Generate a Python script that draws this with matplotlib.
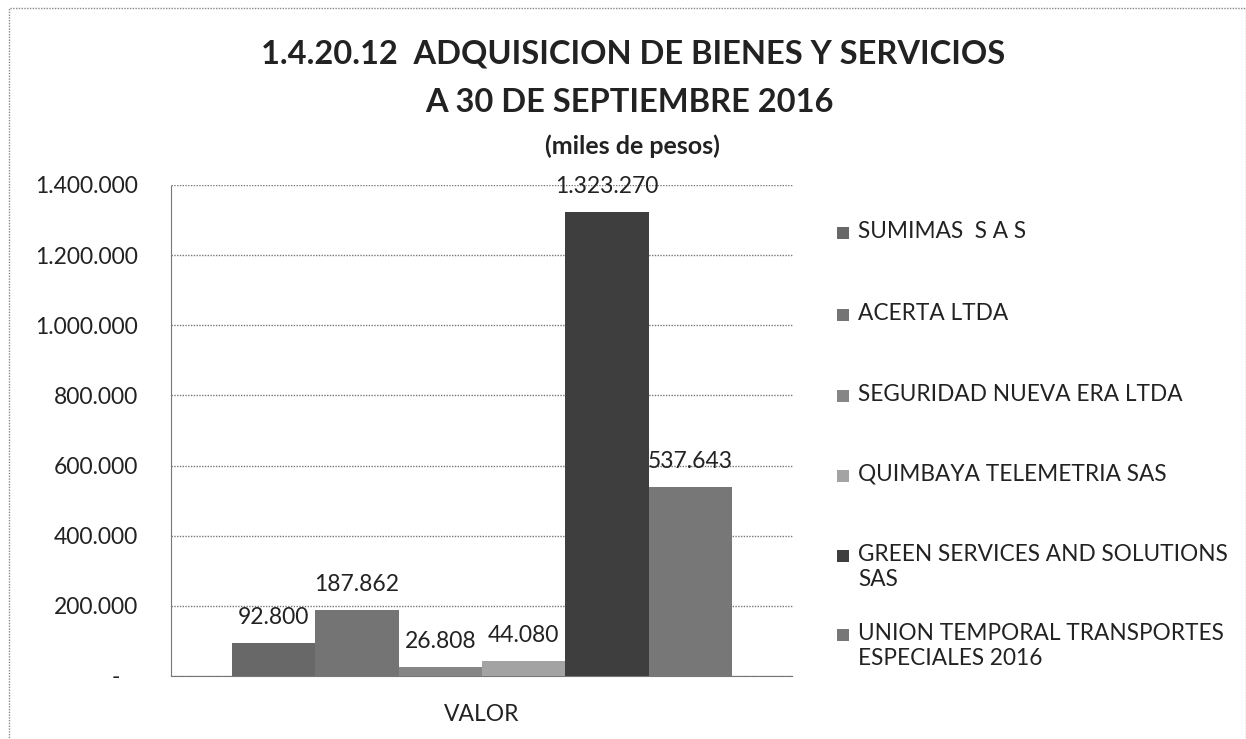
import matplotlib
matplotlib.use("Agg")
import matplotlib.pyplot as plt
from matplotlib.patches import Rectangle

plt.rcParams['font.family'] = ['Lato', 'DejaVu Sans']

categories = ["SUMIMAS  S A S", "ACERTA LTDA", "SEGURIDAD NUEVA ERA LTDA",
              "QUIMBAYA TELEMETRIA SAS", "GREEN SERVICES AND SOLUTIONS\nSAS",
              "UNION TEMPORAL TRANSPORTES\nESPECIALES 2016"]
values = [92800, 187862, 26808, 44080, 1323270, 537643]
value_labels = ["92.800", "187.862", "26.808", "44.080", "1.323.270", "537.643"]
colors = ["#686868", "#747474", "#868686", "#a3a3a3", "#3e3e3e", "#777777"]
yticks = [0, 200000, 400000, 600000, 800000, 1000000, 1200000, 1400000]
ytick_labels = ["-   ", "200.000", "400.000", "600.000", "800.000", "1.000.000", "1.200.000", "1.400.000"]
xlabel = "VALOR"

W, H = 1246, 739
fig = plt.figure(figsize=(W/100, H/100), dpi=100)
fig.patch.set_facecolor("white")

# outer frame
fig.patches.append(Rectangle((9/W, -0.01), (W-9)/W, (H-8)/H + 0.01, transform=fig.transFigure,
                             fill=False, edgecolor="#888888", linewidth=1.0, linestyle=(0, (1, 1))))

ax = fig.add_axes([171/W, 1-676/H, (793-171)/W, (676-185)/H])
n = len(values)
group = 0.804
bw = group / n
xs = [-group/2 + bw/2 + i*bw for i in range(n)]
bars = ax.bar(xs, values, width=bw, color=colors, edgecolor="none", zorder=3)
for x, v, lab in zip(xs, values, value_labels):
    ax.annotate(lab, (x, v), xytext=(0, 13.7), textcoords="offset points",
                ha="center", va="baseline", fontsize=16.5, color="#222222", zorder=4)

ax.set_xlim(-0.5, 0.5)
ax.set_ylim(0, 1400000)
ax.set_yticks(yticks)
ax.set_yticklabels(ytick_labels, fontsize=16.5, color="#222222")
ax.tick_params(axis="y", length=0, pad=24)
ax.set_xticks([0])
ax.set_xticklabels([xlabel], fontsize=16.5, color="#222222")
ax.tick_params(axis="x", length=0, pad=20)
ax.grid(axis="y", color="#777777", linestyle=(0, (1, 1)), linewidth=1.0, zorder=0)
for s in ["top", "right"]:
    ax.spines[s].set_visible(False)
ax.spines["left"].set_color("#777777")
ax.spines["left"].set_linestyle((0, (1, 1)))
ax.spines["bottom"].set_color("#777777")
ax.spines["bottom"].set_linestyle((0, (1, 1)))

# titles
fig.text(633/W, 1-54/H, "1.4.20.12  ADQUISICION DE BIENES Y SERVICIOS", ha="center", va="center",
         fontsize=23.5, fontweight="bold", color="#222222")
fig.text(629/W, 1-103/H, "A 30 DE SEPTIEMBRE 2016", ha="center", va="center",
         fontsize=23.5, fontweight="bold", color="#222222")
fig.text(632/W, 1-146/H, "(miles de pesos)", ha="center", va="center",
         fontsize=18, fontweight="bold", color="#222222")

# legend
ys = [233, 315, 396, 476, 556, 635]
for c, lab, y in zip(colors, categories, ys):
    fig.patches.append(Rectangle((837/W, 1-(y+6)/H), 12/W, 12/H, transform=fig.transFigure,
                                 facecolor=c, edgecolor="none"))
    fig.text(858/W, 1-(y-12)/H, lab, ha="left", va="top", fontsize=16.3, color="#222222",
             linespacing=1.25)

fig.savefig("out.png", dpi=100)
